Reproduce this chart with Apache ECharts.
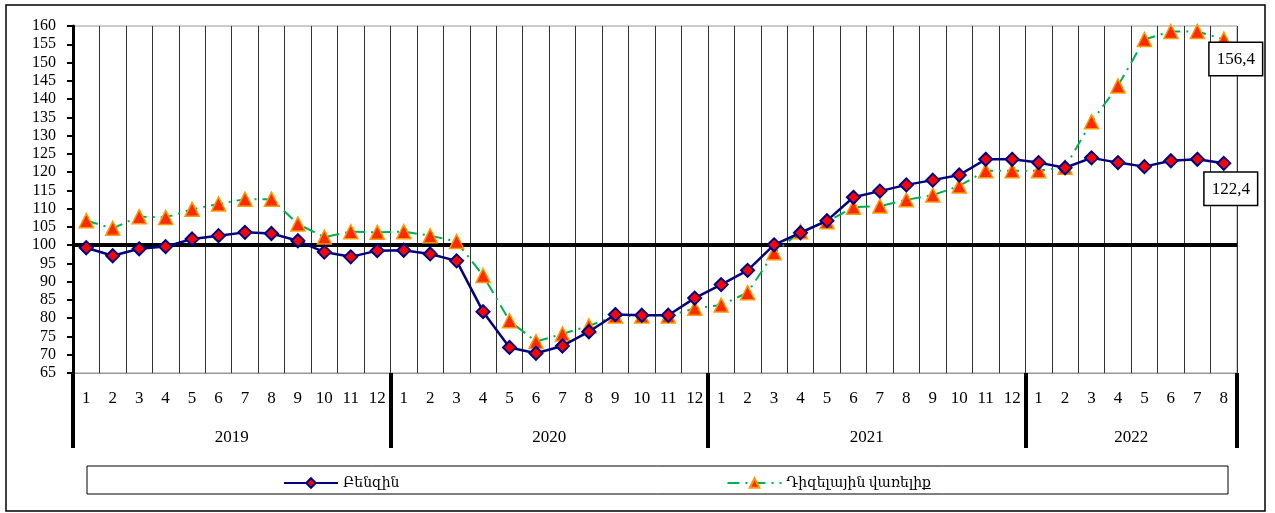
<!DOCTYPE html>
<html lang="hy">
<head>
    <meta charset="UTF-8">
    <title>Բենզին / Դիզելային վառելիք</title>
    <style>
        html, body { margin: 0; padding: 0; background: #fff; }
        #main { width: 1275px; height: 513px; }
    </style>
</head>
<body>
    <div id="main"></div>
    <script src="https://cdn.jsdelivr.net/npm/echarts@6/dist/echarts.min.js"></script>
    <script>
        // tvyalner
        var years = ['2019', '2020', '2021', '2022'];
        var monthsPerYear = [12, 12, 12, 8];
        var benzin = [99.3, 97.1, 99.0, 99.6, 101.7, 102.6, 103.5, 103.2, 101.2, 98.1, 96.8, 98.5,
            98.6, 97.6, 95.7, 81.8, 72.0, 70.4, 72.4, 76.3, 81.0, 80.8, 80.8, 85.5,
            89.2, 93.1, 100.1, 103.4, 106.7, 113.1, 114.8, 116.5, 117.8, 119.2, 123.5, 123.5,
            122.6, 121.2, 123.9, 122.6, 121.5, 123.1, 123.5, 122.4];
        var diesel = [106.7, 104.6, 107.8, 107.6, 109.8, 111.3, 112.6, 112.6, 105.8, 102.2, 103.7, 103.5,
            103.7, 102.6, 101.0, 91.7, 79.3, 73.6, 75.7, 77.9, 80.6, 80.6, 80.6, 82.7,
            83.6, 87.0, 97.9, 103.7, 106.4, 110.4, 110.7, 112.4, 113.7, 116.2, 120.4, 120.4,
            120.4, 121.3, 133.8, 143.6, 156.3, 158.5, 158.5, 156.4];
        var seriesNames = ['Բենզին', 'Դիզելային վառելիք'];

        var serif = "'Liberation Serif', 'DejaVu Serif', serif";

        // amisner + tarineri sahmanner
        var months = [];
        var yearTicks = [0];
        years.forEach(function (y, i) {
            for (var m = 1; m <= monthsPerYear[i]; m++) months.push(String(m));
            yearTicks.push(yearTicks[i] + monthsPerYear[i]);
        });
        var boundaries = [];
        for (var b = 0; b <= months.length; b++) boundaries.push('');
        years.forEach(function (y, i) {
            boundaries[yearTicks[i] + monthsPerYear[i] / 2] = y;
        });

        function lastLabel(arr, dist, off) {
            return arr.map(function (v, i) {
                if (i < arr.length - 1) return v;
                return {
                    value: v,
                    label: {
                        show: true,
                        position: 'bottom',
                        distance: dist,
                        offset: off,
                        formatter: String(v).replace('.', ','),
                        fontFamily: serif,
                        fontSize: 17,
                        color: '#000',
                        backgroundColor: '#fff',
                        borderColor: '#000',
                        borderWidth: 1.5,
                        padding: [8, 7, 7, 7]
                    }
                };
            });
        }

        var myChart = echarts.init(document.getElementById('main'));
        var option = {
            animation: false,
            grid: {
                left: 73, right: 38, top: 26, bottom: 140,
                show: true, borderColor: '#999', borderWidth: 1
            },
            graphic: [
                { type: 'rect', shape: { x: 6, y: 5, width: 1259, height: 506 }, style: { fill: 'none', stroke: '#000', lineWidth: 1.5 } },
                { type: 'rect', shape: { x: 87, y: 466, width: 1141, height: 28 }, style: { fill: 'none', stroke: '#000', lineWidth: 1 } }
            ],
            legend: {
                left: 278,
                top: 471,
                itemWidth: 54,
                itemHeight: 12,
                itemGap: 327,
                textStyle: { fontFamily: serif, fontSize: 14, color: '#000' }
            },
            xAxis: [{
                type: 'category',
                data: months,
                boundaryGap: true,
                axisLine: { lineStyle: { color: '#999', width: 1 } },
                axisTick: { show: false },
                axisLabel: { interval: 0, margin: 17, fontFamily: serif, fontSize: 17, color: '#000' },
                splitLine: { show: true, interval: 0, lineStyle: { color: '#333', width: 1 } }
            }, {
                type: 'category',
                data: boundaries,
                boundaryGap: false,
                position: 'bottom',
                axisLine: { show: false },
                axisTick: {
                    show: true,
                    interval: function (i) { return yearTicks.indexOf(i) >= 0; },
                    length: 75,
                    lineStyle: { color: '#000', width: 4 }
                },
                axisLabel: { interval: 0, margin: 56, fontFamily: serif, fontSize: 17, color: '#000' },
                splitLine: { show: false }
            }],
            yAxis: {
                type: 'value',
                min: 65,
                max: 160,
                interval: 5,
                axisLine: { show: true, lineStyle: { color: '#000', width: 3 } },
                axisTick: { show: true, length: 6, lineStyle: { color: '#000', width: 2 } },
                axisLabel: { margin: 17, fontFamily: serif, fontSize: 16, color: '#000' },
                splitLine: { show: false }
            },
            series: [{
                name: seriesNames[0],
                type: 'line',
                data: lastLabel(benzin, 2, [7, 0]),
                symbol: 'diamond',
                symbolSize: 13,
                z: 4,
                lineStyle: { color: '#000080', width: 2.5 },
                itemStyle: { color: '#ff0000', borderColor: '#000080', borderWidth: 2 },
                markLine: {
                    silent: true,
                    symbol: 'none',
                    label: { show: false },
                    lineStyle: { color: '#000', width: 4, type: 'solid' },
                    data: [{ yAxis: 100 }],
                    z: 1
                }
            }, {
                name: seriesNames[1],
                type: 'line',
                data: lastLabel(diesel, -4, [12, 0]),
                symbol: 'triangle',
                symbolSize: 14,
                z: 3,
                lineStyle: { color: '#00b050', width: 2, type: [12, 6, 2, 6] },
                itemStyle: { color: '#ff2a00', borderColor: '#ff9900', borderWidth: 1.5 }
            }]
        };
        option && myChart.setOption(option);
    </script>
</body>
</html>
